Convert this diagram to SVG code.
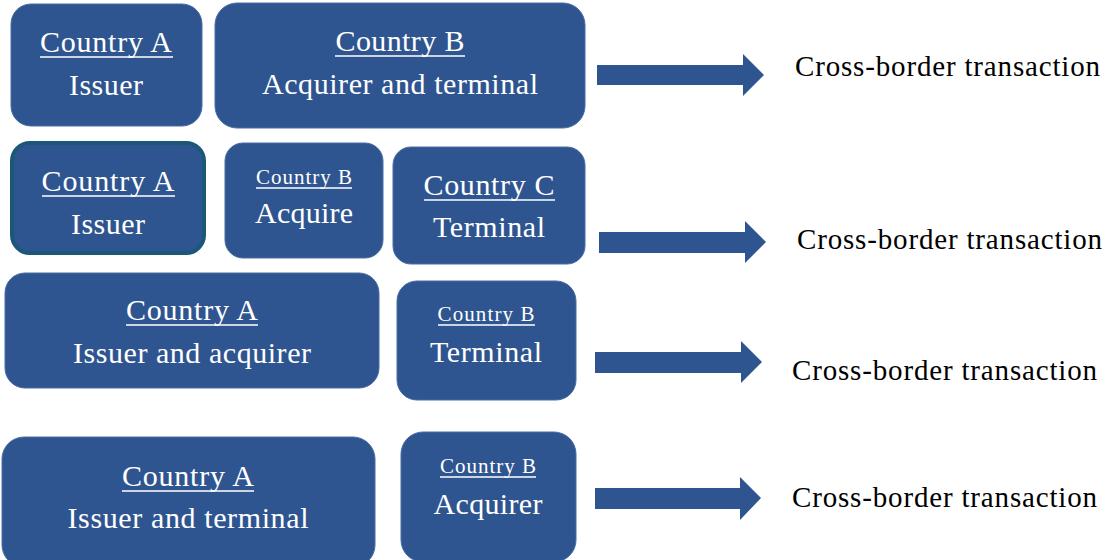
<svg xmlns="http://www.w3.org/2000/svg" width="1105" height="560" viewBox="0 0 1105 560">
<style>
.box{fill:#2f5590;stroke:#4a6da3;stroke-width:1}
.box2{fill:#2f5590;stroke:#1b5778;stroke-width:4}
.t{font-family:"Liberation Serif","Times New Roman",serif;fill:#ffffff;text-anchor:middle;font-size:30px}
.s{font-family:"Liberation Serif","Times New Roman",serif;fill:#ffffff;text-anchor:middle;font-size:21px}
.ul{stroke:#ffffff;stroke-width:1.6}
.lbl{font-family:"Liberation Serif","Times New Roman",serif;fill:#000000;font-size:29px}
.arr{fill:#2f5590}
</style>
<g id="r1a"><rect class="box" x="11" y="4" width="191" height="122" rx="20"/>
<text class="t" x="106" y="52" textLength="132">Country A</text>
<line class="ul" x1="40" y1="57" x2="173" y2="57"/>
<text class="t" x="106" y="95" textLength="74">Issuer</text></g>
<g id="r1b"><rect class="box" x="215" y="3" width="370" height="125" rx="22"/>
<text class="t" x="400" y="51" textLength="129">Country B</text>
<line class="ul" x1="335" y1="56" x2="465" y2="56"/>
<text class="t" x="400" y="94" textLength="276">Acquirer and terminal</text></g>

<g id="r2a"><rect class="box2" x="12" y="143" width="192" height="110" rx="18"/>
<text class="t" x="108" y="191" textLength="133">Country A</text>
<line class="ul" x1="42" y1="196" x2="175" y2="196"/>
<text class="t" x="108" y="234" textLength="74">Issuer</text></g>
<g id="r2b"><rect class="box" x="225" y="143" width="158" height="115" rx="18"/>
<text class="s" x="304" y="184" textLength="96">Country B</text>
<line class="ul" x1="256" y1="188" x2="352" y2="188"/>
<text class="t" x="304" y="223" textLength="98">Acquire</text></g>
<g id="r2c"><rect class="box" x="393" y="147" width="192" height="117" rx="18"/>
<text class="t" x="489" y="195" textLength="131">Country C</text>
<line class="ul" x1="424" y1="200" x2="555" y2="200"/>
<text class="t" x="489" y="237" textLength="112">Terminal</text></g>

<g id="r3a"><rect class="box" x="5" y="273" width="374" height="115" rx="20"/>
<text class="t" x="192" y="320" textLength="132">Country A</text>
<line class="ul" x1="126" y1="325" x2="258" y2="325"/>
<text class="t" x="192" y="363" textLength="238">Issuer and acquirer</text></g>
<g id="r3b"><rect class="box" x="397" y="281" width="179" height="119" rx="20"/>
<text class="s" x="486" y="321" textLength="97">Country B</text>
<line class="ul" x1="438" y1="325" x2="535" y2="325"/>
<text class="t" x="486" y="362" textLength="112">Terminal</text></g>

<g id="r4a"><rect class="box" x="2" y="437" width="373" height="130" rx="22"/>
<text class="t" x="188" y="486" textLength="132">Country A</text>
<line class="ul" x1="122" y1="491" x2="254" y2="491"/>
<text class="t" x="188" y="528" textLength="241">Issuer and terminal</text></g>
<g id="r4b"><rect class="box" x="401" y="432" width="175" height="130" rx="22"/>
<text class="s" x="488" y="473" textLength="96">Country B</text>
<line class="ul" x1="440" y1="477" x2="536" y2="477"/>
<text class="t" x="488" y="514" textLength="109">Acquirer</text></g>

<g id="connectors">
<polygon class="arr" points="597,65 743,65 743,54 764,75 743,96 743,85 597,85"/>
<polygon class="arr" points="599,232 745,232 745,221 766,242 745,263 745,253 599,253"/>
<polygon class="arr" points="595,352 741,352 741,341 762,362 741,383 741,373 595,373"/>
<polygon class="arr" points="595,488 740,488 740,477 761,498 740,520 740,509 595,509"/>
</g>
<g id="labels">
<text class="lbl" x="795" y="76" textLength="305">Cross-border transaction</text>
<text class="lbl" x="797" y="249" textLength="305">Cross-border transaction</text>
<text class="lbl" x="792" y="380" textLength="305">Cross-border transaction</text>
<text class="lbl" x="792" y="507" textLength="305">Cross-border transaction</text>
</g>
</svg>
